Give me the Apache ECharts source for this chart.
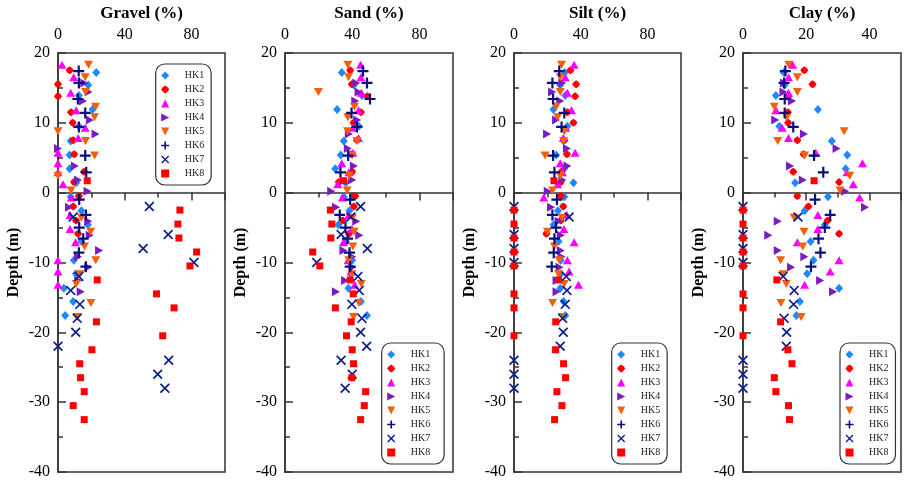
<!DOCTYPE html>
<html>
<head>
<meta charset="utf-8">
<script src="https://cdn.jsdelivr.net/npm/echarts@6/dist/echarts.min.js"></script>
<style>html,body{margin:0;padding:0;background:#fff;}#c{width:904px;height:483px;}</style>
</head>
<body>
<div id="c"></div>
<script>
// ---------- DATA ----------
const panelTitles = ['Gravel (%)', 'Sand (%)', 'Silt (%)', 'Clay (%)'];
const seriesNames = ['HK1', 'HK2', 'HK3', 'HK4', 'HK5', 'HK6', 'HK7', 'HK8'];

const hk1Depth  = [17.2, 15.4, 13.9, 11.9, 9.5, 7.4, 5.4, 3.4, 1.4, -0.6, -2.6, -4.6, -7.0, -9.7, -11.6, -13.7, -15.6, -17.6];
const hk1Gravel = [22.9, 18.1, 12.5, 20.7, 12.5, 7.6, 7.0, 7.0, 10.9, 7.6, 14.0, 17.9, 14.0, 9.5, 10.7, 3.5, 9.1, 4.3];
const hk1Sand   = [33.8, 41.0, 45.8, 31.0, 44.0, 35.0, 33.2, 29.9, 36.2, 35.0, 38.3, 31.8, 36.2, 40.0, 39.2, 37.8, 45.2, 48.8];
const hk1Silt   = [30.4, 27.7, 30.7, 23.6, 32.0, 29.7, 25.2, 30.1, 35.6, 30.1, 26.3, 23.7, 26.7, 28.0, 28.1, 27.7, 29.7, 30.7];
const hk1Clay   = [12.9, 13.2, 10.4, 23.7, 11.5, 28.1, 33.0, 32.5, 16.5, 26.9, 19.5, 25.9, 21.4, 22.3, 20.3, 30.4, 18.0, 16.9];

const hk2Depth  = [17.5, 15.5, 13.8, 11.5, 10.0, 7.5, 5.5, 3.0, 1.5, -0.5, -2.0, -4.0, -5.9];
const hk2Gravel = [7.0, 0.0, 0.0, 7.8, 8.8, 9.1, 9.7, 15.6, 9.6, 12.5, 9.1, 10.8, 12.0];
const hk2Sand   = [38.8, 39.8, 49.0, 45.2, 40.8, 42.8, 39.4, 40.0, 32.0, 41.8, 41.0, 34.4, 38.0];
const hk2Silt   = [33.8, 37.2, 36.6, 32.0, 35.6, 30.1, 31.7, 28.5, 28.0, 28.1, 29.5, 28.0, 19.4];
const hk2Clay   = [19.4, 22.0, 14.4, 14.2, 14.3, 17.2, 19.2, 15.9, 30.4, 17.2, 20.7, 26.8, 30.4];

const hk3Depth  = [18.3, 16.5, 14.3, 11.8, 9.3, 7.8, 5.7, 4.2, 2.9, 1.2, -0.7, -3.2, -5.2, -7.1, -9.7, -11.3, -13.2];
const hk3Gravel = [2.4, 9.4, 7.6, 10.9, 16.3, 12.1, 0.0, 0.0, 0.0, 3.0, 8.0, 7.2, 7.2, 10.5, 0.0, 0.0, 0.0];
const hk3Sand   = [45.0, 45.2, 45.4, 43.8, 40.4, 43.8, 40.4, 33.8, 38.0, 31.4, 34.2, 38.0, 39.8, 34.8, 37.6, 39.4, 41.5];
const hk3Silt   = [36.0, 30.7, 32.0, 34.4, 30.9, 29.5, 36.6, 27.7, 29.0, 26.1, 17.8, 31.7, 29.9, 36.0, 32.0, 33.0, 38.6];
const hk3Clay   = [15.7, 14.4, 14.4, 10.4, 12.4, 14.4, 23.0, 37.8, 32.9, 34.9, 36.9, 23.7, 23.7, 17.2, 30.4, 27.6, 19.5];

const hk4Depth  = [15.7, 14.4, 13.1, 10.4, 8.4, 6.3, 3.8, 1.8, 0.2, -2.1, -4.1, -6.1, -8.3, -9.2, -10.7, -12.6, -14.2];
const hk4Gravel = [15.7, 18.3, 15.0, 19.1, 22.5, 0.0, 10.1, 12.0, 17.7, 6.6, 18.1, 19.0, 24.6, 12.0, 18.1, 12.1, 13.6];
const hk4Sand   = [42.4, 43.8, 41.8, 43.0, 38.0, 37.4, 41.0, 40.0, 27.5, 30.4, 42.4, 44.2, 34.8, 40.0, 40.0, 35.8, 30.3];
const hk4Silt   = [28.9, 22.8, 27.7, 25.2, 19.8, 31.7, 32.0, 29.0, 20.2, 22.2, 26.7, 28.0, 28.0, 28.5, 27.3, 25.5, 25.5];
const hk4Clay   = [13.0, 12.8, 15.5, 10.2, 19.3, 29.6, 14.9, 18.9, 32.3, 38.6, 11.0, 8.0, 11.0, 19.4, 15.2, 24.4, 28.5];

const hk5Depth  = [18.3, 16.5, 14.4, 12.3, 10.8, 8.8, 7.4, 5.3, 2.4, 0.3, -3.6, -5.6, -7.7, -9.7, -11.7, -13.1, -15.8, -17.8];
const hk5Gravel = [18.3, 16.3, 16.5, 22.5, 21.9, 0.0, 16.5, 21.9, 0.0, 7.8, 14.0, 19.6, 15.9, 22.6, 13.1, 10.9, 19.7, 11.5];
const hk5Sand   = [37.4, 37.8, 19.9, 41.4, 37.4, 37.2, 42.8, 40.0, 38.2, 37.0, 40.2, 41.2, 40.4, 38.0, 39.8, 45.4, 44.0, 40.8];
const hk5Silt   = [28.5, 27.7, 27.7, 25.2, 26.1, 30.1, 29.7, 18.6, 27.7, 23.1, 28.7, 20.0, 24.2, 27.1, 26.7, 30.1, 23.1, 29.3];
const hk5Clay   = [14.5, 17.2, 17.2, 9.9, 13.8, 32.0, 11.0, 19.5, 33.8, 30.7, 16.2, 19.3, 18.9, 11.9, 12.7, 13.7, 12.0, 18.4];

const hk6Depth  = [17.4, 15.7, 13.4, 11.4, 9.4, 5.3, 2.9, -1.0, -3.2, -5.0, -6.6, -8.6, -10.6];
const hk6Gravel = [12.4, 12.5, 11.9, 16.3, 12.5, 16.3, 16.9, 12.7, 16.7, 12.7, 15.1, 12.5, 16.7];
const hk6Sand   = [46.4, 48.8, 50.6, 39.6, 42.8, 37.6, 33.0, 38.8, 32.6, 36.0, 37.2, 38.4, 38.8];
const hk6Silt   = [27.1, 23.0, 23.4, 30.1, 28.5, 23.4, 24.2, 25.7, 23.0, 25.2, 24.2, 23.8, 22.6];
const hk6Clay   = [13.4, 13.0, 13.2, 13.2, 15.9, 22.5, 25.4, 22.8, 27.6, 25.9, 23.9, 24.5, 21.5];

const hk7Depth  = [-2.0, -3.5, -6.0, -8.0, -10.0, -12.0, -14.0, -16.0, -18.0, -20.0, -22.0, -24.0, -26.0, -28.0];
const hk7Gravel = [54.7, 9.1, 66.0, 51.0, 81.4, 12.5, 7.6, 13.1, 11.5, 10.6, 0.0, 66.3, 59.7, 64.0];
const hk7Sand   = [45.0, 39.2, 33.4, 49.0, 18.9, 43.4, 44.2, 39.8, 45.8, 45.0, 48.6, 33.4, 40.0, 35.8];
const hk7Silt   = [0.0, 33.0, 0.0, 0.0, 0.0, 31.3, 31.7, 30.7, 29.1, 29.5, 27.7, 0.0, 0.0, 0.0];
const hk7Clay   = [0.0, 17.4, 0.0, 0.0, 0.0, 12.7, 16.2, 16.0, 13.0, 13.8, 13.7, 0.0, 0.0, 0.0];

const hk8Depth  = [1.7, -2.5, -4.5, -6.5, -8.5, -10.5, -12.5, -14.5, -16.5, -18.5, -20.5, -22.5, -24.5, -26.5, -28.5, -30.5, -32.5];
const hk8Gravel = [17.5, 73.0, 71.8, 72.4, 83.0, 79.0, 23.5, 59.0, 69.5, 23.0, 62.7, 20.3, 13.0, 13.5, 15.7, 9.1, 15.7];
const hk8Sand   = [34.8, 27.0, 27.9, 27.3, 16.5, 20.7, 38.8, 40.6, 30.0, 39.4, 36.6, 40.0, 40.8, 39.8, 48.0, 47.2, 45.0];
const hk8Silt   = [23.9, 0.0, 0.0, 0.0, 0.0, 0.0, 26.7, 0.0, 0.0, 25.0, 0.0, 24.9, 29.7, 30.9, 25.7, 28.7, 24.3];
const hk8Clay   = [22.5, 0.0, 0.0, 0.0, 0.0, 0.0, 10.7, 0.0, 0.0, 11.9, 0.0, 14.2, 15.5, 9.9, 10.4, 14.4, 14.7];

const xMaxes = [100, 100, 100, 50];
const xIntervals = [40, 40, 40, 20];
const depthMin = -40, depthMax = 20, depthInterval = 10;

// ---------- BUILD ----------
const boreholes = [
  [hk1Depth, hk1Gravel, hk1Sand, hk1Silt, hk1Clay],
  [hk2Depth, hk2Gravel, hk2Sand, hk2Silt, hk2Clay],
  [hk3Depth, hk3Gravel, hk3Sand, hk3Silt, hk3Clay],
  [hk4Depth, hk4Gravel, hk4Sand, hk4Silt, hk4Clay],
  [hk5Depth, hk5Gravel, hk5Sand, hk5Silt, hk5Clay],
  [hk6Depth, hk6Gravel, hk6Sand, hk6Silt, hk6Clay],
  [hk7Depth, hk7Gravel, hk7Sand, hk7Silt, hk7Clay],
  [hk8Depth, hk8Gravel, hk8Sand, hk8Silt, hk8Clay]
];

const styles = [
  {symbol: 'path://M5,0 L10,5 L5,10 L0,5 Z', size: [8, 9], color: '#1E88FF'},
  {symbol: 'path://M5,0 L8,2.2 L10,5 L8,7.8 L5,10 L2,7.8 L0,5 L2,2.2 Z', size: [8, 8], color: '#FF0000'},
  {symbol: 'path://M5,0 L10,10 L0,10 Z', size: [9, 8], color: '#FF00FF'},
  {symbol: 'path://M0,0 L10,5 L0,10 Z', size: [8, 9], color: '#7A1CC0'},
  {symbol: 'path://M0,0 L10,0 L5,10 Z', size: [9, 8], color: '#F55F0A'},
  {symbol: 'path://M4,0 H6 V4 H10 V6 H6 V10 H4 V6 H0 V4 H4 Z', size: [11, 11], color: '#0A0F80'},
  {symbol: 'path://M1.2,0 L5,3.8 L8.8,0 L10,1.2 L6.2,5 L10,8.8 L8.8,10 L5,6.2 L1.2,10 L0,8.8 L3.8,5 L0,1.2 Z', size: [10, 10], color: '#0A1E8C'},
  {symbol: 'path://M0,0 H10 V10 H0 Z', size: [7, 7], color: '#FF0000'}
];

const F = 'Liberation Serif, Times New Roman, serif';
const gridRects = [
  {left: 58, top: 51, width: 167, height: 421},
  {left: 285, top: 51, width: 168, height: 421},
  {left: 514, top: 51, width: 167, height: 421},
  {left: 743, top: 51, width: 167, height: 421}
];

const grids = gridRects.map(r => Object.assign({show: true, borderColor: '#333', borderWidth: 1.5, backgroundColor: 'transparent'}, r));

const xAxes = panelTitles.map((t, i) => ({
  gridIndex: i, type: 'value', position: 'top', min: 0, max: xMaxes[i], interval: xIntervals[i],
  name: t, nameLocation: 'middle', nameGap: 26,
  nameTextStyle: {fontFamily: F, fontSize: 17, fontWeight: 'bold', color: '#000'},
  axisLine: {show: true, lineStyle: {color: '#333', width: 1.5}},
  axisTick: {show: true, inside: true, length: 8, lineStyle: {color: '#333', width: 1.5}},
  minorTick: {show: true, splitNumber: 2, length: 5, lineStyle: {color: '#333', width: 1.5}},
  axisLabel: {fontFamily: F, fontSize: 16, color: '#000', margin: 10,
    formatter: v => (v === xMaxes[i] ? '' : String(v))},
  splitLine: {show: false}
}));

const yAxes = panelTitles.map((t, i) => ({
  gridIndex: i, type: 'value', position: 'left', min: depthMin, max: depthMax, interval: depthInterval,
  name: 'Depth (m)', nameLocation: 'middle', nameGap: 36,
  nameTextStyle: {fontFamily: F, fontSize: 16, fontWeight: 'bold', color: '#000'},
  axisLine: {show: true, onZero: false, lineStyle: {color: '#333', width: 1.5}},
  axisTick: {show: true, inside: true, length: 8, lineStyle: {color: '#333', width: 1.5}},
  minorTick: {show: true, splitNumber: 2, length: 5, lineStyle: {color: '#333', width: 1.5}},
  axisLabel: {fontFamily: F, fontSize: 16, color: '#000', margin: 8},
  splitLine: {show: false}
}));

const series = [];
for (let p = 0; p < 4; p++) {
  boreholes.forEach((b, k) => {
    const depth = b[0], vals = b[p + 1];
    series.push({
      name: seriesNames[k], type: 'scatter', xAxisIndex: p, yAxisIndex: p, clip: false,
      symbol: styles[k].symbol, symbolSize: styles[k].size,
      itemStyle: {color: styles[k].color, opacity: 1},
      data: depth.map((d, j) => [vals[j], d]),
      animation: false
    });
  });
}

const legendPos = [
  {left: 155.7, top: 64, padR: 7},
  {left: 381.7, top: 343, padR: 14},
  {left: 611.7, top: 343, padR: 7},
  {left: 840, top: 343, padR: 7}
];
const legends = legendPos.map(l => ({
  orient: 'vertical', left: l.left, top: l.top,
  itemWidth: 29, itemHeight: 8, itemGap: 4,
  padding: [6.5, l.padR, 6.5, 5.5],
  borderColor: '#333', borderWidth: 1.2, borderRadius: 9,
  textStyle: {fontFamily: F, fontSize: 10, color: '#222'},
  selectedMode: false,
  data: seriesNames
}));

const chart = echarts.init(document.getElementById('c'), null, {renderer: 'canvas'});
chart.setOption({
  backgroundColor: '#fff',
  animation: false,
  grid: grids, xAxis: xAxes, yAxis: yAxes, legend: legends, series: series
});
</script>
</body>
</html>
